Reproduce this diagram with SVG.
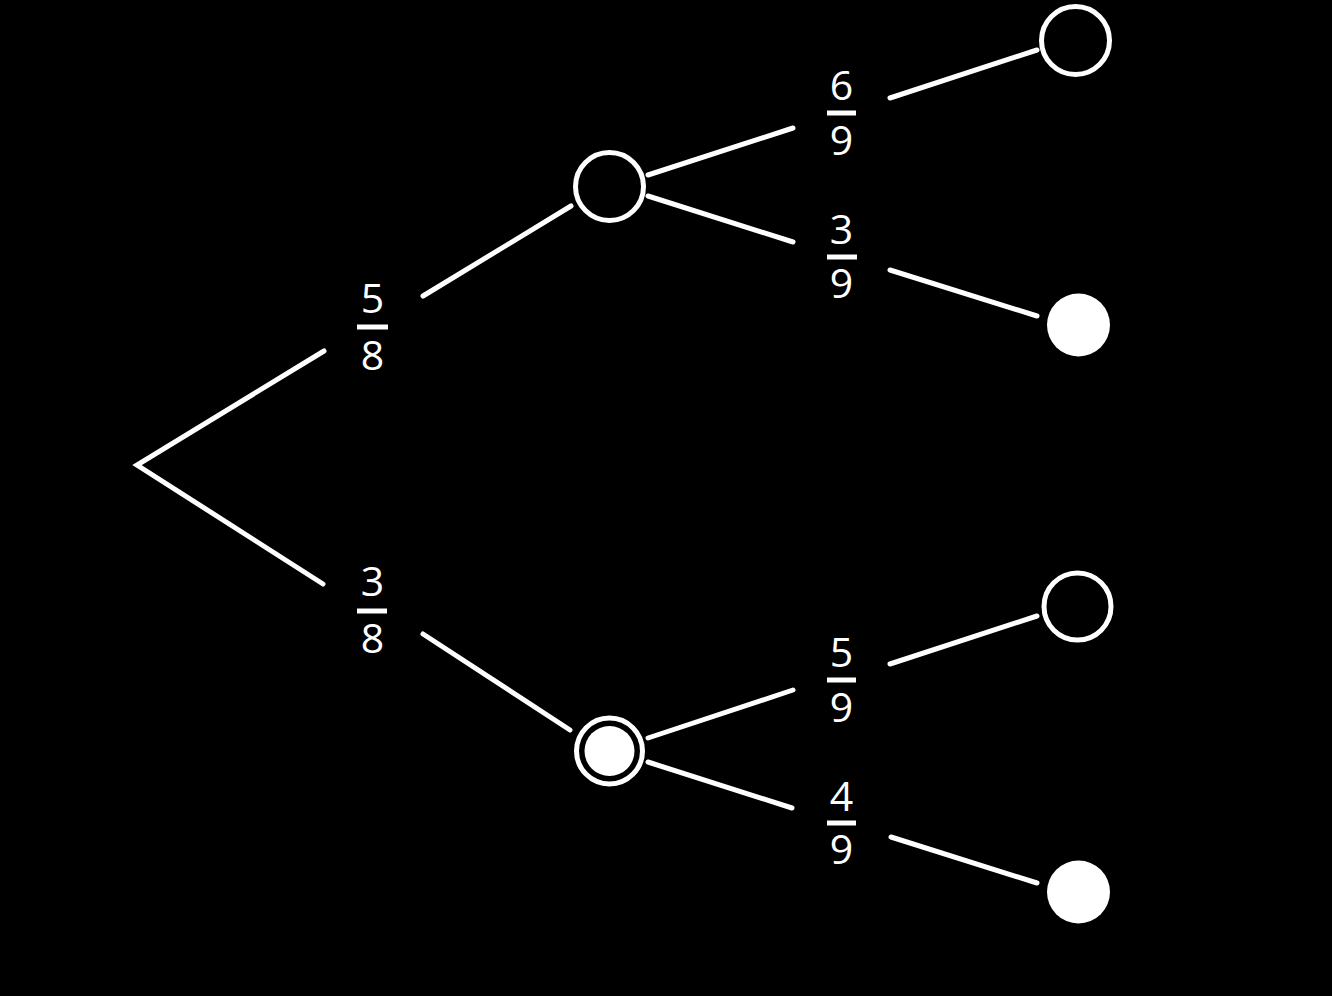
<svg xmlns="http://www.w3.org/2000/svg" width="1332" height="996" viewBox="0 0 1332 996">
<style>
.edge{stroke:#fff;stroke-width:5;stroke-linecap:round;fill:none}
.ring{stroke:#fff;stroke-width:5;fill:none}
.dot{fill:#fff}
.num{fill:#fff;font-family:"Open Sans","Noto Sans",sans-serif;font-size:41px;text-anchor:middle}
.bar{stroke:#fff;stroke-width:5}
</style>
<rect width="1332" height="996" fill="#000"/>
<g id="connectors">
<polyline class="edge" points="324,351 137,465 323,584"/>
<line class="edge" x1="423" y1="296" x2="571" y2="206"/>
<line class="edge" x1="423" y1="634" x2="570" y2="730"/>
<line class="edge" x1="648" y1="175" x2="793" y2="128"/>
<line class="edge" x1="890" y1="98" x2="1037" y2="50"/>
<line class="edge" x1="648" y1="196" x2="793" y2="242"/>
<line class="edge" x1="890" y1="270" x2="1037" y2="316"/>
<line class="edge" x1="648" y1="738" x2="793" y2="690"/>
<line class="edge" x1="890" y1="664" x2="1037" y2="616"/>
<line class="edge" x1="648" y1="762" x2="792" y2="808"/>
<line class="edge" x1="891" y1="837" x2="1037" y2="883"/>
</g>
<g id="label-5-8"><text class="num" x="372.5" y="313">5</text><line class="bar" x1="357" y1="327" x2="388" y2="327"/><text class="num" x="372.5" y="370">8</text></g>
<g id="label-3-8"><text class="num" x="372.5" y="596">3</text><line class="bar" x1="357" y1="611" x2="387" y2="611"/><text class="num" x="372.5" y="653">8</text></g>
<g id="label-6-9"><text class="num" x="841.5" y="100">6</text><line class="bar" x1="827" y1="113" x2="856" y2="113"/><text class="num" x="841.5" y="155">9</text></g>
<g id="label-3-9"><text class="num" x="841.5" y="244">3</text><line class="bar" x1="827" y1="257" x2="857" y2="257"/><text class="num" x="841.5" y="298">9</text></g>
<g id="label-5-9"><text class="num" x="841.5" y="667">5</text><line class="bar" x1="827" y1="680" x2="856" y2="680"/><text class="num" x="841.5" y="722">9</text></g>
<g id="label-4-9"><text class="num" x="841.5" y="811">4</text><line class="bar" x1="827" y1="823" x2="856" y2="823"/><text class="num" x="841.5" y="864">9</text></g>
<g id="node-upper"><circle class="ring" cx="609.5" cy="186.5" r="34"/></g>
<g id="node-lower"><circle class="ring" cx="609.5" cy="751" r="33"/><circle class="dot" cx="609.5" cy="751" r="25"/></g>
<g id="leaf-1"><circle class="ring" cx="1075.5" cy="40.5" r="34"/></g>
<g id="leaf-2"><circle class="dot" cx="1078.5" cy="325" r="31.5"/></g>
<g id="leaf-3"><circle class="ring" cx="1077.5" cy="606.5" r="33.5"/></g>
<g id="leaf-4"><circle class="dot" cx="1078.5" cy="892" r="31.5"/></g>
</svg>
